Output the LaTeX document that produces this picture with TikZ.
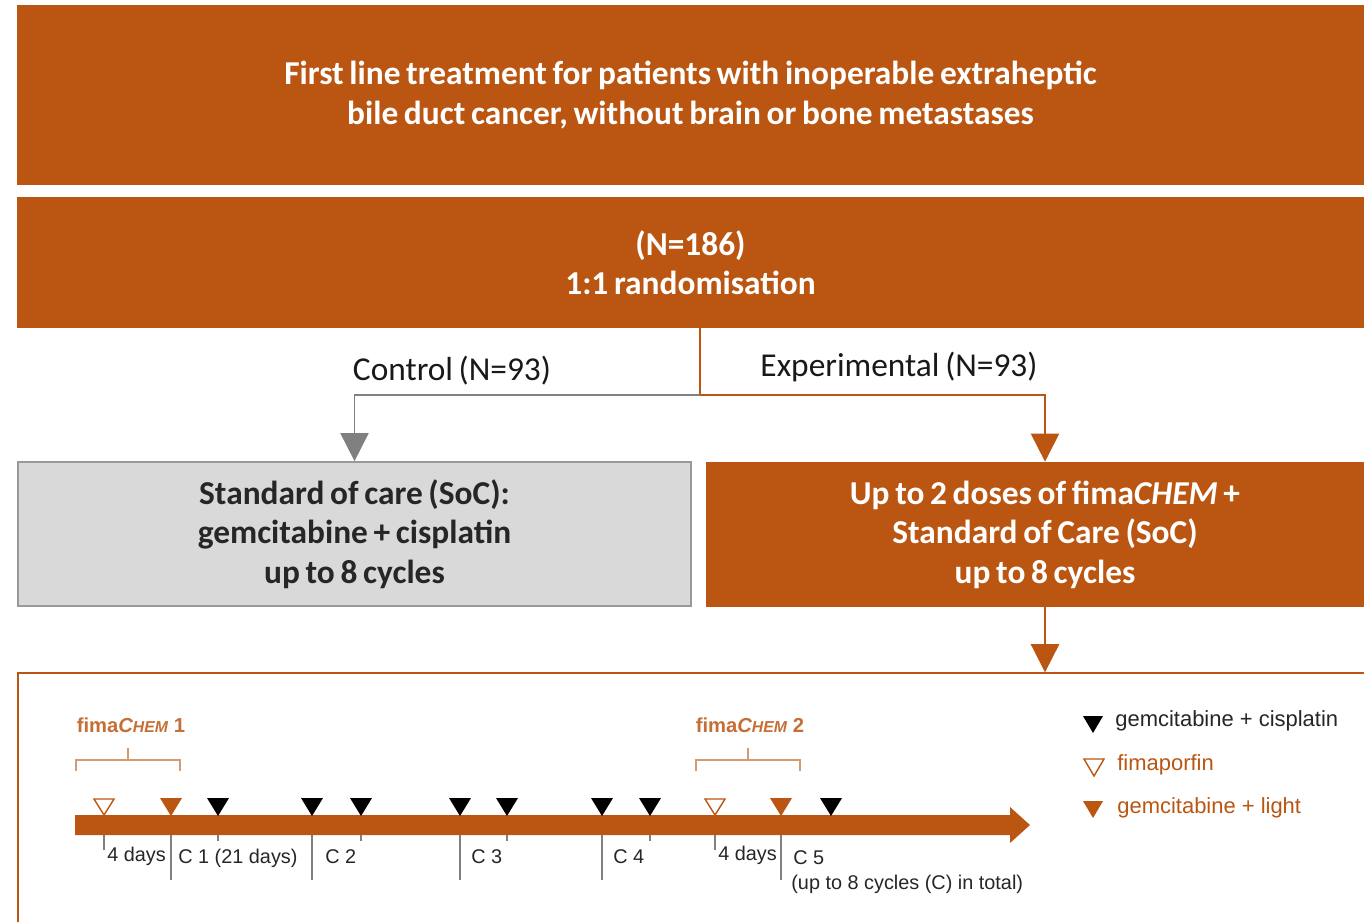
\documentclass[tikz,border=0pt]{standalone}
\usepackage{fontspec}
\setmainfont{Carlito}[WordSpace=0.75]
\newfontfamily\arialfont{Liberation Sans}
\usetikzlibrary{arrows.meta}

\definecolor{fimaorange}{RGB}{187,86,18}
\definecolor{socgray}{RGB}{217,217,217}
\definecolor{linegray}{RGB}{128,128,128}

\tikzset{
	boxfont/.style={font=\fontsize{19}{22.5}\selectfont\bfseries},
	orangebox/.style={boxfont, fill=fimaorange, text=white, align=center, inner sep=0pt},
	graybox/.style={boxfont, fill=socgray, draw=linegray!80, line width=1pt, text=black!85, align=center, inner sep=0pt},
	armlabel/.style={font=\fontsize{19}{22}\selectfont, text=black!90},
	tllabel/.style={font=\arialfont\fontsize{11.3}{13}\selectfont, text=black!85, anchor=west, inner sep=0pt},
	leglabel/.style={font=\arialfont\fontsize{12.5}{14}\selectfont, anchor=west, inner sep=0pt},
	fimalabel/.style={font=\arialfont\bfseries\fontsize{11.5}{13}\selectfont, text=fimaorange!85},
	bracket/.style={draw=fimaorange!60, line width=0.7pt},
	tick/.style={draw=linegray, line width=0.8pt},
}

\begin{document}
\begin{tikzpicture}[x=0.02cm, y=-0.02cm]
	\clip (0,0) rectangle (1364,921);
	\fill[white] (0,0) rectangle (1364,921);

	% boxes
	\node[orangebox, minimum width=26.94cm, minimum height=3.6cm] (hdr) at (690.5,95)
		{First line treatment for patients with inoperable extraheptic\\bile duct cancer, without brain or bone metastases};
	\node[orangebox, minimum width=26.94cm, minimum height=2.62cm] (rand) at (690.5,262.5)
		{(N=186)\\1:1 randomisation};
	\node[graybox, minimum width=13.46cm, minimum height=2.88cm] (soc) at (354.5,534)
		{Standard of care (SoC):\\gemcitabine + cisplatin\\up to 8 cycles};
	\node[orangebox, minimum width=13.56cm, minimum height=2.9cm] (exp) at (1045,534.5)
		{Up to 2 doses of fima\textit{CHEM} +\\Standard of Care (SoC)\\up to 8 cycles};
	\node[draw=fimaorange, line width=0.8pt, minimum width=27.32cm, minimum height=5.36cm] (tl) at (701,807) {};

	% arms
	\coordinate (split) at (700,395);
	\draw[fimaorange, line width=1.1pt] (split |- rand.south) -- (split);
	\draw[linegray, line width=1.1pt, -{Triangle[width=16pt, length=16pt]}] (split) -| (soc.north);
	\draw[fimaorange, line width=1.1pt, -{Triangle[width=16pt, length=16pt]}] (split) -| (exp.north);
	\draw[fimaorange, line width=1.1pt, -{Triangle[width=16pt, length=16pt]}] (exp.south) -- (exp.south |- tl.north);
	\node[armlabel] (ctrl) at (452,371) {Control (N=93)};
	\node[armlabel] (expl) at (899,367) {Experimental (N=93)};

	% timeline
	\fill[fimaorange] (75,815) -- (1010,815) -- (1010,807) -- (1030,825) -- (1010,843) -- (1010,835) -- (75,835) -- cycle;
	\foreach \t in {171,312,460,602,781}
		\draw[tick] (\t,835) -- (\t,880);
	\foreach \t in {104,715}
		\draw[tick] (\t,835) -- (\t,850);
	\foreach \t in {218,361,507,650}
		\draw[tick] (\t,835) -- (\t,841);
	\foreach \t in {218,312,361,460,507,602,650,831}
		\fill[black] (\t-11,798) -- (\t+11,798) -- (\t,816) -- cycle;
	\foreach \t in {171,781}
		\fill[fimaorange] (\t-11,798) -- (\t+11,798) -- (\t,816) -- cycle;
	\foreach \t in {104,715}
		\draw[fimaorange, fill=white, line width=0.8pt] (\t-10,799) -- (\t+10,799) -- (\t,815) -- cycle;

	\node[tllabel] (d1) at (107,856) {4 days};
	\node[tllabel] (c1) at (178,858) {C 1 (21 days)};
	\node[tllabel] (c2) at (325,857) {C 2};
	\node[tllabel] (c3) at (471,857) {C 3};
	\node[tllabel] (c4) at (613,857) {C 4};
	\node[tllabel] (d2) at (718,855) {4 days};
	\node[tllabel] (c5) at (793,858) {C 5};
	\node[tllabel] (tot) at (791,884) {(up to 8 cycles (C) in total)};

	% fimaCHEM brackets
	\draw[bracket] (76,771) -- (76,760) -- (180,760) -- (180,771);
	\draw[bracket] (128,760) -- (128,748);
	\node[fimalabel] (f1) at (131,725) {fima\textit{C{\fontsize{9}{10}\selectfont HEM}} 1};
	\draw[bracket] (696,771) -- (696,760) -- (800,760) -- (800,771);
	\draw[bracket] (748,760) -- (748,748);
	\node[fimalabel] (f2) at (750,725) {fima\textit{C{\fontsize{9}{10}\selectfont HEM}} 2};

	% legend
	\fill[black] (1083,716) -- (1103,716) -- (1093,733) -- cycle;
	\draw[fimaorange, line width=0.8pt] (1084,759) -- (1104,759) -- (1094,776) -- cycle;
	\fill[fimaorange] (1083,801) -- (1103,801) -- (1093,818) -- cycle;
	\node[leglabel, text=black!85] (lg1) at (1115,721) {gemcitabine + cisplatin};
	\node[leglabel, text=fimaorange] (lg2) at (1117,765) {fimaporfin};
	\node[leglabel, text=fimaorange] (lg3) at (1117,808) {gemcitabine + light};
\end{tikzpicture}
\end{document}
